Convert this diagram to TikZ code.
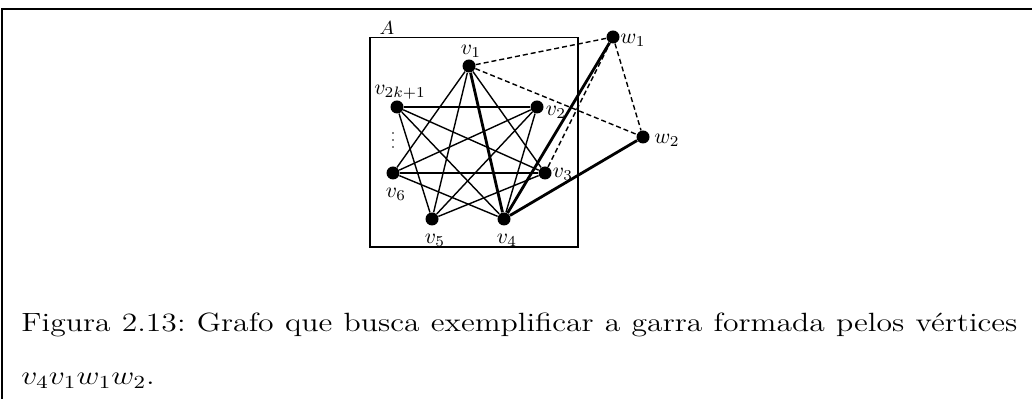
\RequirePackage{fix-cm}
\documentclass[tikz,border=0pt]{standalone}
\usepackage{amsmath}
\begin{document}
\begin{tikzpicture}[x=0.5pt,y=-0.5pt,
  vtx/.style={circle,fill=black,inner sep=0pt,minimum size=6.5pt},
  dotv/.style={circle,fill=black,inner sep=0pt,minimum size=0.9pt},
  lab/.style={inner sep=0pt,font=\fontsize{10.8}{11}\selectfont},
  edge/.style={line width=0.7pt},
  thick edge/.style={line width=1.4pt},
  dash edge/.style={line width=0.7pt,dash pattern=on 2.5pt off 1.5pt},
  frame/.style={line width=0.9pt},
  captext/.style={inner sep=0pt,font=\fontsize{13.2}{25}\selectfont}]
\useasboundingbox (0,0) rectangle (1032,399);
% outer frame
\draw[frame] (2,399) -- (2,9) -- (1032,9);
% box A
\draw[line width=0.7pt] (370,37.5) rectangle (578,247);
\node[inner sep=0pt,font=\fontsize{9.5}{10}\selectfont] (A) at (387,28) {$A$};
% vertices
\node[vtx] (v1) at (469,66) {};
\node[vtx] (v2) at (537,107) {};
\node[vtx] (v7) at (397,107) {};
\node[vtx] (v6) at (393,173) {};
\node[vtx] (v3) at (545,173) {};
\node[vtx] (v5) at (432,219) {};
\node[vtx] (v4) at (504,219) {};
\node[vtx] (w1) at (613,37) {};
\node[vtx] (w2) at (643,137) {};
% labels
\node[lab] (l1) at (471,51) {$v_1$};
\node[lab] (l2) at (556,112) {$v_2$};
\node[lab] (l7) at (400,92) {$v_{2k+1}$};
\node[lab] (l6) at (396,194) {$v_6$};
\node[lab] (l3) at (563,174) {$v_3$};
\node[lab] (l5) at (435,240) {$v_5$};
\node[lab] (l4) at (507,240) {$v_4$};
\node[lab] (lw1) at (633,40) {$w_1$};
\node[lab] (lw2) at (667,140) {$w_2$};
% vertical dots
\node[dotv] (d1) at (393,133) {};
\node[dotv] (d2) at (393,140) {};
\node[dotv] (d3) at (393,147) {};
% edges of complement of cycle
\draw[edge] (v1) -- (v3);
\draw[edge] (v1) -- (v5);
\draw[edge] (v1) -- (v6);
\draw[edge] (v2) -- (v5);
\draw[edge] (v2) -- (v6);
\draw[edge] (v2) -- (v7);
\draw[edge] (v2) -- (v4);
\draw[edge] (v3) -- (v5);
\draw[edge] (v3) -- (v6);
\draw[edge] (v3) -- (v7);
\draw[edge] (v4) -- (v6);
\draw[edge] (v4) -- (v7);
\draw[edge] (v5) -- (v7);
% claw
\draw[thick edge] (v4) -- (v1);
\draw[thick edge] (v4) -- (w1);
\draw[thick edge] (v4) -- (w2);
% dashed
\draw[dash edge] (v1) -- (w1);
\draw[dash edge] (v1) -- (w2);
\draw[dash edge] (w1) -- (w2);
\draw[dash edge] (v3) -- (w1);
% caption
\node[captext,anchor=base west] (cap1) at (21,332)
  {\scalebox{1.2}[1]{\makebox[415pt][s]{Figura 2.13:\ Grafo que busca exemplificar a garra formada pelos v\'ertices}}};
\node[captext,anchor=base west] (cap2) at (21,385)
  {\scalebox{1.2}[1]{$v_4v_1w_1w_2$.}};
\end{tikzpicture}
\end{document}
